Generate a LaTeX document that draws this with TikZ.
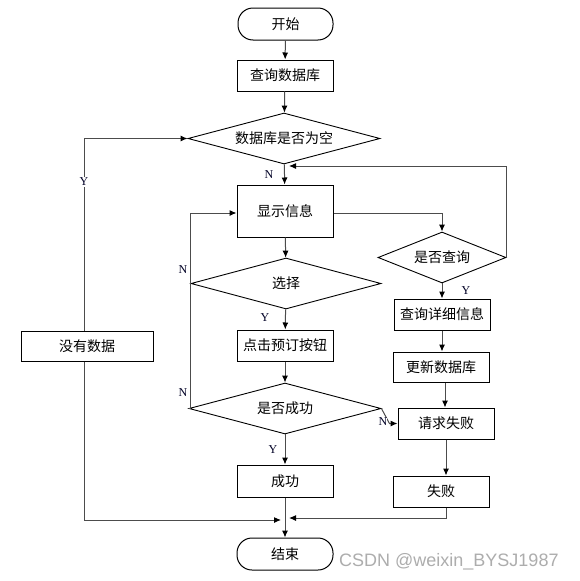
\documentclass[tikz,border=0pt]{standalone}
\usepackage{fontspec}
\setmainfont{Liberation Serif}
\newfontfamily\cjk{Noto Sans CJK SC}
\newfontfamily\wmfont{Liberation Sans}
\usetikzlibrary{shapes.geometric,arrows.meta,calc}
\begin{document}
\begin{tikzpicture}[x=1pt,y=-1pt,
  box/.style={draw=black,line width=1pt,fill=white,inner sep=0pt,font=\cjk\fontsize{14}{16}\selectfont,minimum width=96pt,minimum height=31pt},
  term/.style={box,rounded corners=15pt},
  dia/.style={draw=black,line width=0.9pt,fill=white,diamond,aspect=3.8,inner sep=0pt,font=\cjk\fontsize{14}{16}\selectfont},
  conn/.style={draw=black!70,line width=1pt,-{Latex[length=7pt,width=6pt,color=black]}},
  plain/.style={draw=black!70,line width=1pt},
  yn/.style={font=\fontsize{12}{12}\selectfont,inner sep=1pt,text=black!85!blue}
]
\useasboundingbox[fill=white] (0,0) rectangle (579,581);

% nodes
\node[term] (start) at (285.5,24) [minimum width=95pt,minimum height=32pt] {开始};
\node[box] (q) at (285,75.5) {查询数据库};
\node[dia,minimum width=192pt,minimum height=51pt] (d1) at (284,138.5) {数据库是否为空};
\node[box,minimum height=52pt] (show) at (285,211) {显示信息};
\node[dia,minimum width=190pt,minimum height=51pt] (d2) at (286,283.5) {选择};
\node[box] (click) at (285,345.5) {点击预订按钮};
\node[dia,minimum width=192pt,minimum height=51pt] (d3) at (285,408.5) {是否成功};
\node[box,minimum height=32pt] (succ) at (285,481) {成功};
\node[term,minimum height=32pt] (end) at (285,554) {结束};
\node[box,minimum width=132pt,minimum height=30pt] (nodata) at (87,346) {没有数据};
\node[dia,minimum width=128pt,minimum height=51pt] (d4) at (442,257.5) {是否查询};
\node[box] (detail) at (442,314.5) {查询详细信息};
\node[box,minimum height=30pt] (update) at (441,367) {更新数据库};
\node[box] (req) at (446,423.5) {请求失败};
\node[box] (fail) at (441,491.5) {失败};

% helper coordinates
\coordinate (j1) at (285,166);
\coordinate (lx) at (190,213);
\coordinate (m) at (285,520);
\coordinate (rx) at (506,166);

% main column
\draw[conn] (start) -- (q);
\draw[conn] (q) -- (d1);
\draw[conn] (d1) -- (show);
\draw[conn] (show) -- (d2);
\draw[conn] (d2) -- (click);
\draw[conn] (click) -- (d3);
\draw[conn] (d3) -- (succ);
\draw[conn] (succ) -- (end);

% no data branch
\draw[conn] ([xshift=-3pt]nodata.north) |- (d1.west);
\draw[conn] ([xshift=-3pt]nodata.south) |- ([xshift=-4pt]m);
\node[yn,fill=white] (y1) at (84,182) {Y};

% loops back to show
\draw[plain] (d2.west) -- (d2.west -| lx);
\draw[conn] (d3.west) -| (lx) -- (lx -| show.west);
\node[yn] (n2) at (183,270) {N};
\node[yn] (n3) at (183,393) {N};

% query branch
\draw[conn] (show.east |- lx) -| (d4.north);
\draw[conn] (d4.east) -| (rx) -- ([xshift=4pt]j1);
\draw[conn] (d4) -- (detail);
\draw[conn] (detail) -- (detail |- update.north);
\draw[conn] (update.south -| 445,0) -- (req.north -| 445,0);
\draw[conn] (req) -- (req.south |- fail.north);
\draw[conn] (fail.south -| req.south) |- ([xshift=4pt,yshift=2pt]m);

% fail branch from d3
\draw[conn] (d3.east) -- ++(8,15) -- (req.west);
\node[yn,fill=white,inner sep=0pt] (n4) at (383,422) {N};

% labels
\node[yn] (n1) at (269,175) {N};
\node[yn] (y2) at (265,318) {Y};
\node[yn] (y3) at (273,450) {Y};
\node[yn,fill=white] (y4) at (466,291) {Y};

% watermark
\node[anchor=west,inner sep=0pt,text=black!32,font=\wmfont\fontsize{18}{18}\selectfont] (wm) at (339,562) {CSDN @weixin\_BYSJ1987};
\end{tikzpicture}
\end{document}
